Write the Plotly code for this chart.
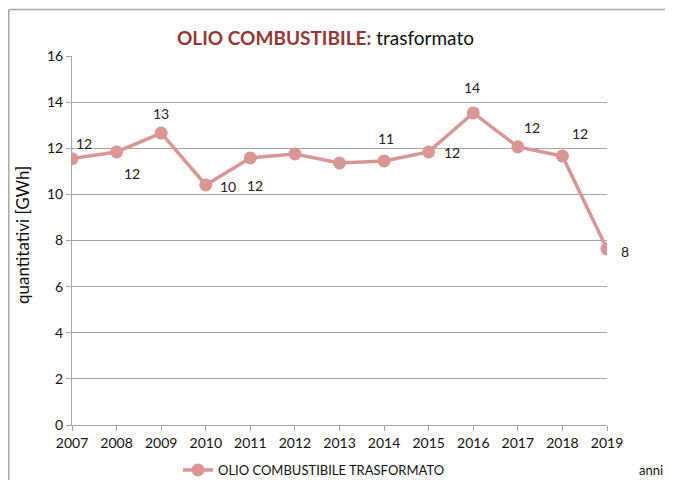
import plotly.graph_objects as go

years = [2007, 2008, 2009, 2010, 2011, 2012, 2013, 2014, 2015, 2016, 2017, 2018, 2019]
values = [11.55, 11.84, 12.66, 10.41, 11.58, 11.75, 11.36, 11.45, 11.84, 13.53, 12.06, 11.66, 7.63]
labels = ["12", "12", "13", "10", "12", "", "", "11", "12", "14", "12", "12", "8"]
label_dx = [12, 15, 0, 22, 5, 0, 0, 2, 23, -1, 14, 18, 18]
label_dy = [-15, 22, -20, 2, 28, 0, 0, -22, 1, -25, -19, -23, 2]
y_ticks = [0, 2, 4, 6, 8, 10, 12, 14, 16]

FONT = "Lato"
LINE = "#D99694"
OFF = 8  # default page body margin
PAGE_W, PAGE_H = 673, 488
W, H = PAGE_W - 2 * OFF, PAGE_H - 2 * OFF
# plot area in page pixels
PX0, PX1, PY0, PY1 = 72, 607, 56, 425
L, T = PX0 - OFF, PY0 - OFF
R = W - (PX1 - OFF)
B = H - (PY1 - OFF)
pw, ph = PX1 - PX0, PY1 - PY0


def px(x):
    return (x - PX0) / pw


def py(y):
    return (PY1 - y) / ph


fig = go.Figure()
fig.add_trace(go.Scatter(
    x=years, y=values, mode="lines+markers",
    name="OLIO COMBUSTIBILE TRASFORMATO",
    line=dict(color=LINE, width=3.5),
    marker=dict(color=LINE, size=13),
))

for xv, yv, t, dx, dy in zip(years, values, labels, label_dx, label_dy):
    if t:
        fig.add_annotation(x=xv, y=yv, text=t, showarrow=False,
                           xshift=dx, yshift=-dy,
                           font=dict(family=FONT, size=14, color="#222"))

# title
fig.add_annotation(
    xref="paper", yref="paper", x=px(325), y=py(38),
    xanchor="center", yanchor="middle", showarrow=False,
    text="<b><span style='color:#953735'>OLIO COMBUSTIBILE:</span></b> trasformato",
    font=dict(family=FONT, size=19, color="#111"))

# y-axis title
fig.add_annotation(
    xref="paper", yref="paper", x=px(22), y=py(235),
    xanchor="center", yanchor="middle", showarrow=False, textangle=-90,
    text="quantitativi [GWh]", font=dict(family=FONT, size=17, color="#111"))

# "anni"
fig.add_annotation(
    xref="paper", yref="paper", x=px(PAGE_W - OFF), y=py(470),
    xanchor="right", yanchor="middle", showarrow=False,
    text="anni", font=dict(family=FONT, size=13, color="#111"))

# outer frame (top and left edges only; the rest lies off-page)
frame = dict(color="#A6A6A6", width=1.5)
fig.add_shape(type="line", xref="paper", yref="paper", layer="below",
              x0=px(OFF + 0.8), x1=px(PAGE_W - OFF), y0=py(OFF + 1.5), y1=py(OFF + 1.5),
              line=frame)
fig.add_shape(type="line", xref="paper", yref="paper", layer="below",
              x0=px(OFF + 0.8), x1=px(OFF + 0.8), y0=py(OFF + 1.5), y1=py(PAGE_H - OFF),
              line=frame)

fig.update_layout(
    width=W, height=H,
    margin=dict(l=L, r=R, t=T, b=B, autoexpand=False),
    paper_bgcolor="white", plot_bgcolor="white",
    font=dict(family=FONT, size=14, color="#111"),
    showlegend=True,
    legend=dict(orientation="h", x=px(178), xanchor="left",
                y=py(470), yanchor="middle",
                font=dict(family=FONT, size=13, color="#111"),
                itemwidth=30, bgcolor="rgba(0,0,0,0)"),
    xaxis=dict(range=[2007, 2019], tickvals=years, ticktext=[str(y) for y in years],
               showgrid=False, zeroline=False, showline=True, linecolor="#A6A6A6",
               linewidth=1, ticks="outside", ticklen=5, tickcolor="#A6A6A6",
               tickfont=dict(family=FONT, size=14, color="#111")),
    yaxis=dict(range=[0, 16], tickvals=y_ticks, showgrid=True, gridcolor="#A6A6A6",
               gridwidth=1, zeroline=False, showline=True, linecolor="#A6A6A6",
               linewidth=1, ticks="outside", ticklen=5, tickcolor="#A6A6A6",
               tickfont=dict(family=FONT, size=14, color="#111")),
)

fig.write_html("out.html")
